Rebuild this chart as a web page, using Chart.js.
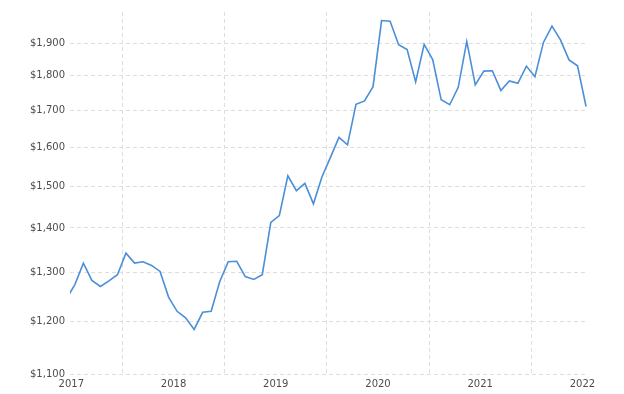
<!DOCTYPE html>
<html>
<head>
<meta charset="utf-8">
<script src="https://cdn.jsdelivr.net/npm/chart.js@4/dist/chart.umd.min.js"></script>
<style>
  html, body { margin: 0; padding: 0; background: #ffffff; }
  #wrap { width: 624px; height: 394px; }
</style>
</head>
<body>
<div id="wrap"><canvas id="c" width="624" height="394"></canvas></div>
<script>
// Monthly points (first one sits just left of the visible range)
const months = [
  '2016-12',
  '2017-01','2017-02','2017-03','2017-04','2017-05','2017-06','2017-07','2017-08','2017-09','2017-10','2017-11','2017-12',
  '2018-01','2018-02','2018-03','2018-04','2018-05','2018-06','2018-07','2018-08','2018-09','2018-10','2018-11','2018-12',
  '2019-01','2019-02','2019-03','2019-04','2019-05','2019-06','2019-07','2019-08','2019-09','2019-10','2019-11','2019-12',
  '2020-01','2020-02','2020-03','2020-04','2020-05','2020-06','2020-07','2020-08','2020-09','2020-10','2020-11','2020-12',
  '2021-01','2021-02','2021-03','2021-04','2021-05','2021-06','2021-07','2021-08','2021-09','2021-10','2021-11','2021-12',
  '2022-01'
];
const prices = [
  1245,
  1275, 1321, 1284, 1271, 1283, 1296, 1343, 1321, 1324, 1316, 1303, 1249,
  1220, 1207, 1184, 1218, 1220, 1281, 1324, 1325, 1292, 1286, 1296, 1413,
  1429, 1526, 1489, 1507, 1457, 1523, 1573, 1626, 1606, 1717, 1727, 1768,
  1972, 1970, 1895, 1880, 1782, 1896, 1849, 1730, 1716, 1766, 1905, 1773,
  1814, 1815, 1757, 1785, 1778, 1829, 1797, 1902, 1954, 1910, 1848, 1830,
  1711
];
const yearLabels = ['2017', '2018', '2019', '2020', '2021', '2022'];
const yTicks = [1100, 1200, 1300, 1400, 1500, 1600, 1700, 1800, 1900, 2000];

// x position: months since Jan 2017, each point plotted near mid-month
const monthPos = (s) => {
  const [y, m] = s.split('-').map(Number);
  return (y - 2017) * 12 + (m - 1) + 0.42;
};
const points = prices.map((v, i) => ({ x: monthPos(months[i]), y: v }));

const gridColor = '#dedede';
const textColor = '#4d4d4d';
const font = { family: 'DejaVu Sans', size: 10 };

new Chart(document.getElementById('c'), {
  type: 'line',
  data: {
    datasets: [{
      data: points,
      borderColor: '#4b8fd8',
      borderWidth: 1.6,
      pointRadius: 0,
      tension: 0,
      fill: false,
      clip: 0
    }]
  },
  options: {
    responsive: false,
    animation: false,
    events: [],
    layout: { padding: { top: 12, right: 36, left: 0, bottom: 0 } },
    plugins: { legend: { display: false }, tooltip: { enabled: false } },
    scales: {
      x: {
        type: 'linear',
        min: -0.15,
        max: 60.65,
        afterBuildTicks: (s) => {
          const t = [];
          for (let m = 0; m <= 60; m += 6) t.push({ value: m });
          s.ticks = t;
        },
        afterFit: (s) => { s.height = 20; },
        ticks: {
          autoSkip: false,
          maxRotation: 0,
          padding: 4,
          color: textColor,
          font: font,
          callback: (v) => (v % 12 === 0 ? yearLabels[v / 12] : '')
        },
        grid: {
          drawTicks: false,
          color: (ctx) => (ctx.tick && ctx.tick.value % 12 === 6 ? gridColor : 'rgba(0,0,0,0)'),
          lineWidth: 1,
          borderDash: [4, 3]
        },
        border: { display: false, dash: [4, 3] }
      },
      y: {
        type: 'logarithmic',
        min: 1100,
        max: 2000,
        afterBuildTicks: (s) => { s.ticks = yTicks.map(v => ({ value: v })); },
        afterFit: (s) => { s.width = 70; },
        ticks: {
          autoSkip: false,
          padding: 5,
          color: textColor,
          font: font,
          callback: (v) => (v >= 2000 ? '' : '$' + v.toLocaleString('en-US'))
        },
        grid: {
          drawTicks: false,
          color: (ctx) => (ctx.tick && ctx.tick.value >= 2000 ? 'rgba(0,0,0,0)' : gridColor),
          lineWidth: 1,
          borderDash: [4, 3]
        },
        border: { display: false, dash: [4, 3] }
      }
    }
  }
});
</script>
</body>
</html>
